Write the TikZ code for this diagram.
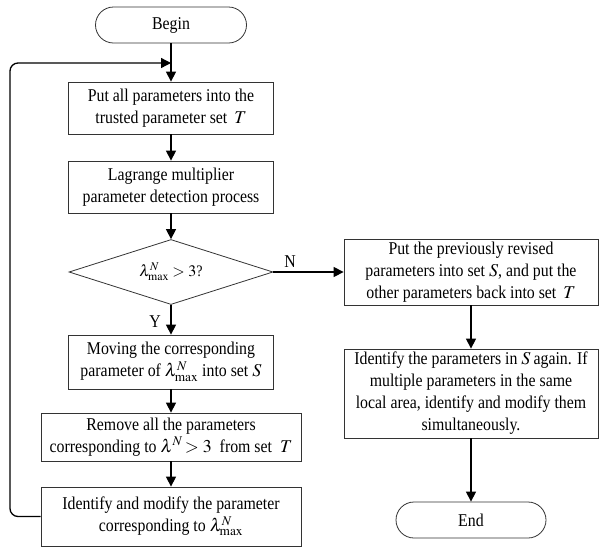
\documentclass[tikz,border=0pt]{standalone}
\usepackage{mathptmx}
\usepackage[no-math]{fontspec}
\setmainfont[FakeStretch=0.88]{Liberation Serif}
\usetikzlibrary{arrows.meta,shapes.geometric}
\begin{document}
\begin{tikzpicture}[x=1pt,y=-1pt,
  every node/.style={font=\fontsize{18}{22}\selectfont},
  procbox/.style={draw=black!80,line width=0.8pt,align=center,inner sep=0pt},
  termbox/.style={draw=black!80,line width=0.8pt,rounded corners=18pt,inner sep=0pt,minimum height=36pt},
  decbox/.style={draw=black!80,line width=0.8pt,diamond,inner sep=0pt,aspect=3},
  flow/.style={line width=1.3pt,-{Triangle[length=10pt,width=10pt]}},
  lbl/.style={inner sep=0pt}
]
\useasboundingbox (0,0) rectangle (600,547);
\node[termbox,minimum width=151pt] (begin) at (171,25) {Begin};
\node[procbox,minimum width=205pt,minimum height=52pt] (b1) at (171,108) {Put all parameters into the\\trusted parameter set \,$T$};
\node[procbox,minimum width=205pt,minimum height=52pt] (b2) at (171,187) {Lagrange multiplier\\parameter detection process};
\node[decbox,minimum width=204pt,minimum height=65pt,font=\fontsize{16}{20}\selectfont] (d) at (171,272) {$\lambda_{\max}^{N}>3$?};
\node[procbox,minimum width=205pt,minimum height=54pt] (b3) at (171,362) {Moving the corresponding\\parameter of $\lambda_{\max}^{N}$ into set $S$};
\node[procbox,minimum width=260pt,minimum height=48pt] (b4) at (171,437) {Remove all the parameters\\corresponding to $\lambda^{N}\!>3$ \ from set \ $T$};
\node[procbox,minimum width=260pt,minimum height=59pt] (b5) at (171,516.5) {Identify and modify the parameter\\corresponding to $\lambda_{\max}^{N}$};
\node[procbox,minimum width=254pt,minimum height=66pt] (r1) at (471,272) {Put the previously revised\\parameters into set $S$, and put the\\other parameters back into set \,$T$};
\node[procbox,minimum width=254pt,minimum height=89pt] (r2) at (471,393.5) {Identify the parameters in $S$\,again. If\\multiple parameters in the same\\local area, identify and modify them\\simultaneously.};
\node[termbox,minimum width=150pt] (end) at (471,520) {End};
\node[lbl] (nl) at (290,262) {N};
\node[lbl] (yl) at (155,322) {Y};
\coordinate (loopin) at (171,63);
\coordinate (loopa) at (10,516.5);
\coordinate (loopb) at (10,63);
\draw[flow] (begin.south) -- (b1.north);
\draw[flow] (b1) -- (b2);
\draw[flow] (b2) -- (d);
\draw[flow] (d) -- (b3);
\draw[flow] (b3) -- (b4);
\draw[flow] (b4) -- (b5);
\draw[flow] (d.east) -- (r1.west);
\draw[flow] (r1) -- (r2);
\draw[flow] (r2) -- (end);
\draw[flow,rounded corners=8pt] (b5.west) -- (loopa) -- (loopb) -- (loopin);
\end{tikzpicture}
\end{document}
